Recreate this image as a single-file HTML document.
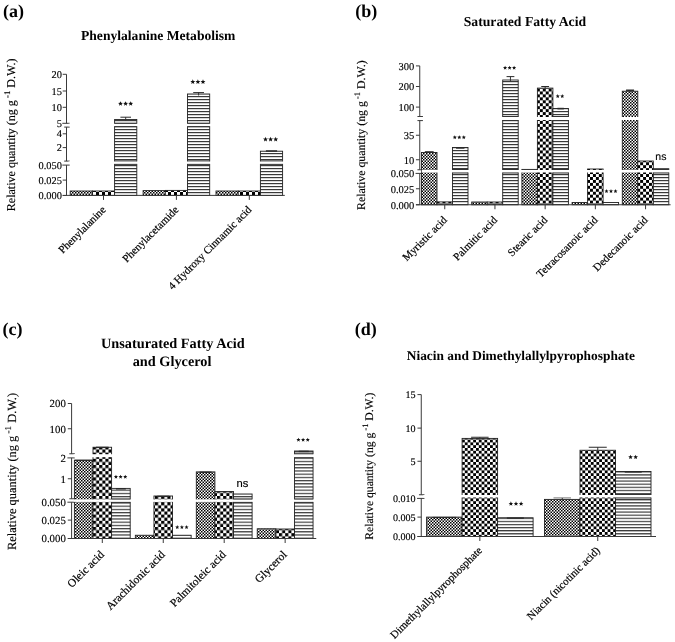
<!DOCTYPE html>
<html><head><meta charset="utf-8"><style>
html,body{margin:0;padding:0;background:#fff;}
svg{display:block;} #w{width:675px;height:642px;} text{text-rendering:geometricPrecision;} .t{opacity:0.999;}
</style></head><body>
<div id="w"><svg width="675" height="642" viewBox="0 0 675 642">
<defs>
<pattern id="finea" width="3" height="3" patternUnits="userSpaceOnUse"><rect width="3" height="3" fill="#fff"/><rect width="1.5" height="1.5" fill="#000"/><rect x="1.5" y="1.5" width="1.5" height="1.5" fill="#000"/></pattern>
<pattern id="coarsea" width="6.0" height="6.0" patternUnits="userSpaceOnUse"><rect width="6.0" height="6.0" fill="#fff"/><rect width="3.0" height="3.0" fill="#000"/><rect x="3.0" y="3.0" width="3.0" height="3.0" fill="#000"/></pattern>
<pattern id="stripea" width="6" height="3.0" patternUnits="userSpaceOnUse"><rect width="6" height="3.0" fill="#fff"/><rect y="0" width="6" height="1.2" fill="#3a3a3a"/></pattern>
<pattern id="fineb" width="3" height="3" patternUnits="userSpaceOnUse"><rect width="3" height="3" fill="#fff"/><rect width="1.5" height="1.5" fill="#000"/><rect x="1.5" y="1.5" width="1.5" height="1.5" fill="#000"/></pattern>
<pattern id="coarseb" width="5.9" height="5.9" patternUnits="userSpaceOnUse"><rect width="5.9" height="5.9" fill="#fff"/><rect width="2.95" height="2.95" fill="#000"/><rect x="2.95" y="2.95" width="2.95" height="2.95" fill="#000"/></pattern>
<pattern id="stripeb" width="6" height="3.0" patternUnits="userSpaceOnUse"><rect width="6" height="3.0" fill="#fff"/><rect y="0" width="6" height="1.2" fill="#3a3a3a"/></pattern>
<pattern id="finec" width="3" height="3" patternUnits="userSpaceOnUse"><rect width="3" height="3" fill="#fff"/><rect width="1.5" height="1.5" fill="#000"/><rect x="1.5" y="1.5" width="1.5" height="1.5" fill="#000"/></pattern>
<pattern id="coarsec" width="6.2" height="6.2" patternUnits="userSpaceOnUse"><rect width="6.2" height="6.2" fill="#fff"/><rect width="3.1" height="3.1" fill="#000"/><rect x="3.1" y="3.1" width="3.1" height="3.1" fill="#000"/></pattern>
<pattern id="stripec" width="6" height="3.2" patternUnits="userSpaceOnUse"><rect width="6" height="3.2" fill="#fff"/><rect y="0" width="6" height="1.2" fill="#3a3a3a"/></pattern>
<pattern id="fined" width="3" height="3" patternUnits="userSpaceOnUse"><rect width="3" height="3" fill="#fff"/><rect width="1.5" height="1.5" fill="#000"/><rect x="1.5" y="1.5" width="1.5" height="1.5" fill="#000"/></pattern>
<pattern id="coarsed" width="5.6" height="5.6" patternUnits="userSpaceOnUse"><rect width="5.6" height="5.6" fill="#fff"/><rect width="2.8" height="2.8" fill="#000"/><rect x="2.8" y="2.8" width="2.8" height="2.8" fill="#000"/></pattern>
<pattern id="striped" width="6" height="3.1" patternUnits="userSpaceOnUse"><rect width="6" height="3.1" fill="#fff"/><rect y="0" width="6" height="1.2" fill="#3a3a3a"/></pattern></defs>
<rect width="675" height="642" fill="#fff"/>
<g class="t"><line x1="66.50" y1="74.30" x2="66.50" y2="123.30" stroke="#3a3a3a" stroke-width="1.0"/>
<line x1="66.50" y1="127.10" x2="66.50" y2="161.10" stroke="#3a3a3a" stroke-width="1.0"/>
<line x1="66.50" y1="165.10" x2="66.50" y2="195.50" stroke="#3a3a3a" stroke-width="1.0"/>
<line x1="62.70" y1="74.30" x2="66.50" y2="74.30" stroke="#3a3a3a" stroke-width="1.0"/>
<text x="61.90" y="77.90" font-family="Liberation Serif" font-size="10.4" font-weight="normal" text-anchor="end" fill="#000" stroke="#000" stroke-width="0.15" >20</text>
<line x1="62.70" y1="91.00" x2="66.50" y2="91.00" stroke="#3a3a3a" stroke-width="1.0"/>
<text x="61.90" y="94.60" font-family="Liberation Serif" font-size="10.4" font-weight="normal" text-anchor="end" fill="#000" stroke="#000" stroke-width="0.15" >15</text>
<line x1="62.70" y1="107.30" x2="66.50" y2="107.30" stroke="#3a3a3a" stroke-width="1.0"/>
<text x="61.90" y="110.90" font-family="Liberation Serif" font-size="10.4" font-weight="normal" text-anchor="end" fill="#000" stroke="#000" stroke-width="0.15" >10</text>
<line x1="62.30" y1="123.30" x2="69.70" y2="123.30" stroke="#3a3a3a" stroke-width="1.0"/>
<text x="61.90" y="126.90" font-family="Liberation Serif" font-size="10.4" font-weight="normal" text-anchor="end" fill="#000" stroke="#000" stroke-width="0.15" >5</text>
<line x1="64.20" y1="127.10" x2="69.70" y2="127.10" stroke="#3a3a3a" stroke-width="1.0"/>
<line x1="62.70" y1="133.80" x2="66.50" y2="133.80" stroke="#3a3a3a" stroke-width="1.0"/>
<text x="61.90" y="137.40" font-family="Liberation Serif" font-size="10.4" font-weight="normal" text-anchor="end" fill="#000" stroke="#000" stroke-width="0.15" >4</text>
<line x1="62.70" y1="147.60" x2="66.50" y2="147.60" stroke="#3a3a3a" stroke-width="1.0"/>
<text x="61.90" y="151.20" font-family="Liberation Serif" font-size="10.4" font-weight="normal" text-anchor="end" fill="#000" stroke="#000" stroke-width="0.15" >2</text>
<line x1="64.20" y1="161.10" x2="69.70" y2="161.10" stroke="#3a3a3a" stroke-width="1.0"/>
<line x1="62.30" y1="165.10" x2="69.70" y2="165.10" stroke="#3a3a3a" stroke-width="1.0"/>
<text x="61.90" y="168.70" font-family="Liberation Serif" font-size="10.4" font-weight="normal" text-anchor="end" fill="#000" stroke="#000" stroke-width="0.15" >0.050</text>
<line x1="62.70" y1="180.10" x2="66.50" y2="180.10" stroke="#3a3a3a" stroke-width="1.0"/>
<text x="61.90" y="183.70" font-family="Liberation Serif" font-size="10.4" font-weight="normal" text-anchor="end" fill="#000" stroke="#000" stroke-width="0.15" >0.025</text>
<line x1="62.70" y1="195.50" x2="66.50" y2="195.50" stroke="#3a3a3a" stroke-width="1.0"/>
<text x="61.90" y="199.10" font-family="Liberation Serif" font-size="10.4" font-weight="normal" text-anchor="end" fill="#000" stroke="#000" stroke-width="0.15" >0.000</text>
<rect x="70.20" y="191.00" width="22.20" height="4.40" fill="url(#finea)" stroke="#222" stroke-width="0.9"/>
<rect x="92.40" y="191.00" width="22.20" height="4.40" fill="url(#coarsea)" stroke="#222" stroke-width="0.9"/>
<rect x="114.60" y="119.50" width="22.20" height="75.90" fill="url(#stripea)" stroke="#222" stroke-width="0.9"/>
<line x1="125.70" y1="117.20" x2="125.70" y2="121.00" stroke="#333" stroke-width="1"/>
<rect x="120.40" y="116.70" width="10.60" height="1.00" fill="#2a2a2a"/>
<line x1="103.50" y1="195.40" x2="103.50" y2="199.90" stroke="#3a3a3a" stroke-width="1.0"/>
<text x="106.40" y="210.40" font-family="Liberation Serif" font-size="10.9" text-anchor="end" fill="#000" stroke="#000" stroke-width="0.2" transform="rotate(-45 106.40 210.40)">Phenylalanine</text>
<polygon points="120.50,101.15 121.17,102.77 122.93,102.91 121.59,104.05 122.00,105.76 120.50,104.85 119.00,105.76 119.41,104.05 118.07,102.91 119.83,102.77" fill="#111"/>
<polygon points="125.60,101.15 126.27,102.77 128.03,102.91 126.69,104.05 127.10,105.76 125.60,104.85 124.10,105.76 124.51,104.05 123.17,102.91 124.93,102.77" fill="#111"/>
<polygon points="130.70,101.15 131.37,102.77 133.13,102.91 131.79,104.05 132.20,105.76 130.70,104.85 129.20,105.76 129.61,104.05 128.27,102.91 130.03,102.77" fill="#111"/>
<rect x="143.10" y="190.60" width="22.20" height="4.80" fill="url(#finea)" stroke="#222" stroke-width="0.9"/>
<rect x="165.30" y="190.40" width="22.20" height="5.00" fill="url(#coarsea)" stroke="#222" stroke-width="0.9"/>
<rect x="187.50" y="94.00" width="22.20" height="101.40" fill="url(#stripea)" stroke="#222" stroke-width="0.9"/>
<line x1="198.60" y1="92.60" x2="198.60" y2="95.50" stroke="#333" stroke-width="1"/>
<rect x="193.20" y="92.10" width="10.80" height="1.00" fill="#2a2a2a"/>
<line x1="176.40" y1="195.40" x2="176.40" y2="199.90" stroke="#3a3a3a" stroke-width="1.0"/>
<text x="179.30" y="210.40" font-family="Liberation Serif" font-size="10.9" text-anchor="end" fill="#000" stroke="#000" stroke-width="0.2" transform="rotate(-45 179.30 210.40)">Phenylacetamide</text>
<polygon points="192.80,79.35 193.47,80.97 195.23,81.11 193.89,82.25 194.30,83.96 192.80,83.05 191.30,83.96 191.71,82.25 190.37,81.11 192.13,80.97" fill="#111"/>
<polygon points="197.90,79.35 198.57,80.97 200.33,81.11 198.99,82.25 199.40,83.96 197.90,83.05 196.40,83.96 196.81,82.25 195.47,81.11 197.23,80.97" fill="#111"/>
<polygon points="203.00,79.35 203.67,80.97 205.43,81.11 204.09,82.25 204.50,83.96 203.00,83.05 201.50,83.96 201.91,82.25 200.57,81.11 202.33,80.97" fill="#111"/>
<rect x="216.00" y="191.00" width="22.20" height="4.40" fill="url(#finea)" stroke="#222" stroke-width="0.9"/>
<rect x="238.20" y="191.00" width="22.20" height="4.40" fill="url(#coarsea)" stroke="#222" stroke-width="0.9"/>
<rect x="260.40" y="151.20" width="22.20" height="44.20" fill="url(#stripea)" stroke="#222" stroke-width="0.9"/>
<rect x="265.90" y="150.25" width="11.20" height="1.50" fill="#2a2a2a"/>
<line x1="249.30" y1="195.40" x2="249.30" y2="199.90" stroke="#3a3a3a" stroke-width="1.0"/>
<text x="252.20" y="210.40" font-family="Liberation Serif" font-size="10.9" text-anchor="end" fill="#000" stroke="#000" stroke-width="0.2" transform="rotate(-45 252.20 210.40)">4 Hydroxy Cinnamic acid</text>
<polygon points="265.50,136.85 266.17,138.47 267.93,138.61 266.59,139.75 267.00,141.46 265.50,140.55 264.00,141.46 264.41,139.75 263.07,138.61 264.83,138.47" fill="#111"/>
<polygon points="270.60,136.85 271.27,138.47 273.03,138.61 271.69,139.75 272.10,141.46 270.60,140.55 269.10,141.46 269.51,139.75 268.17,138.61 269.93,138.47" fill="#111"/>
<polygon points="275.70,136.85 276.37,138.47 278.13,138.61 276.79,139.75 277.20,141.46 275.70,140.55 274.20,141.46 274.61,139.75 273.27,138.61 275.03,138.47" fill="#111"/>
<rect x="68.50" y="123.70" width="217.30" height="2.50" fill="#fff"/>
<rect x="68.50" y="161.40" width="217.30" height="2.50" fill="#fff"/>
<line x1="114.60" y1="123.20" x2="136.80" y2="123.20" stroke="#333" stroke-width="1"/>
<line x1="114.60" y1="126.70" x2="136.80" y2="126.70" stroke="#333" stroke-width="1"/>
<line x1="114.60" y1="160.90" x2="136.80" y2="160.90" stroke="#333" stroke-width="1"/>
<line x1="114.60" y1="164.40" x2="136.80" y2="164.40" stroke="#333" stroke-width="1"/>
<line x1="187.50" y1="123.20" x2="209.70" y2="123.20" stroke="#333" stroke-width="1"/>
<line x1="187.50" y1="126.70" x2="209.70" y2="126.70" stroke="#333" stroke-width="1"/>
<line x1="187.50" y1="160.90" x2="209.70" y2="160.90" stroke="#333" stroke-width="1"/>
<line x1="187.50" y1="164.40" x2="209.70" y2="164.40" stroke="#333" stroke-width="1"/>
<line x1="260.40" y1="160.90" x2="282.60" y2="160.90" stroke="#333" stroke-width="1"/>
<line x1="260.40" y1="164.40" x2="282.60" y2="164.40" stroke="#333" stroke-width="1"/>
<line x1="62.70" y1="195.40" x2="284.80" y2="195.40" stroke="#3a3a3a" stroke-width="1.0"/>
<text x="14.60" y="211.30" font-family="Liberation Serif" font-size="12.1" fill="#000" stroke="#000" stroke-width="0.15" transform="rotate(-90 14.60 211.30)">Relative quantity (ng g<tspan dy="-4.60" font-size="8.71"> -1</tspan><tspan dy="4.60"> D.W.)</tspan></text>
<text x="3.00" y="16.60" font-family="Liberation Serif" font-size="18" font-weight="bold" text-anchor="start" fill="#000" >(a)</text>
<text x="81.00" y="40.40" font-family="Liberation Serif" font-size="13.6" font-weight="bold" text-anchor="start" fill="#000" >Phenylalanine Metabolism</text>
<line x1="419.75" y1="65.90" x2="419.75" y2="116.50" stroke="#3a3a3a" stroke-width="1.0"/>
<line x1="419.75" y1="120.60" x2="419.75" y2="169.75" stroke="#3a3a3a" stroke-width="1.0"/>
<line x1="419.75" y1="173.40" x2="419.75" y2="204.75" stroke="#3a3a3a" stroke-width="1.0"/>
<line x1="415.95" y1="65.90" x2="419.75" y2="65.90" stroke="#3a3a3a" stroke-width="1.0"/>
<text x="414.35" y="69.70" font-family="Liberation Serif" font-size="10.5" font-weight="normal" text-anchor="end" fill="#000" stroke="#000" stroke-width="0.15" >300</text>
<line x1="415.95" y1="86.50" x2="419.75" y2="86.50" stroke="#3a3a3a" stroke-width="1.0"/>
<text x="414.35" y="90.30" font-family="Liberation Serif" font-size="10.5" font-weight="normal" text-anchor="end" fill="#000" stroke="#000" stroke-width="0.15" >200</text>
<line x1="415.95" y1="107.10" x2="419.75" y2="107.10" stroke="#3a3a3a" stroke-width="1.0"/>
<text x="414.35" y="110.90" font-family="Liberation Serif" font-size="10.5" font-weight="normal" text-anchor="end" fill="#000" stroke="#000" stroke-width="0.15" >100</text>
<line x1="417.45" y1="116.50" x2="422.95" y2="116.50" stroke="#3a3a3a" stroke-width="1.0"/>
<line x1="417.45" y1="120.60" x2="422.95" y2="120.60" stroke="#3a3a3a" stroke-width="1.0"/>
<line x1="415.95" y1="135.25" x2="419.75" y2="135.25" stroke="#3a3a3a" stroke-width="1.0"/>
<text x="414.35" y="139.05" font-family="Liberation Serif" font-size="10.5" font-weight="normal" text-anchor="end" fill="#000" stroke="#000" stroke-width="0.15" >35</text>
<line x1="415.95" y1="159.75" x2="419.75" y2="159.75" stroke="#3a3a3a" stroke-width="1.0"/>
<text x="414.35" y="163.55" font-family="Liberation Serif" font-size="10.5" font-weight="normal" text-anchor="end" fill="#000" stroke="#000" stroke-width="0.15" >10</text>
<line x1="417.45" y1="169.75" x2="422.95" y2="169.75" stroke="#3a3a3a" stroke-width="1.0"/>
<line x1="415.55" y1="173.40" x2="422.95" y2="173.40" stroke="#3a3a3a" stroke-width="1.0"/>
<text x="414.35" y="177.20" font-family="Liberation Serif" font-size="10.5" font-weight="normal" text-anchor="end" fill="#000" stroke="#000" stroke-width="0.15" >0.050</text>
<line x1="415.95" y1="188.75" x2="419.75" y2="188.75" stroke="#3a3a3a" stroke-width="1.0"/>
<text x="414.35" y="192.55" font-family="Liberation Serif" font-size="10.5" font-weight="normal" text-anchor="end" fill="#000" stroke="#000" stroke-width="0.15" >0.025</text>
<line x1="415.95" y1="204.75" x2="419.75" y2="204.75" stroke="#3a3a3a" stroke-width="1.0"/>
<text x="414.35" y="208.55" font-family="Liberation Serif" font-size="10.5" font-weight="normal" text-anchor="end" fill="#000" stroke="#000" stroke-width="0.15" >0.000</text>
<rect x="421.50" y="152.50" width="15.50" height="52.25" fill="url(#fineb)" stroke="#222" stroke-width="0.9"/>
<rect x="437.00" y="201.90" width="15.50" height="2.85" fill="url(#coarseb)" stroke="#222" stroke-width="0.9"/>
<rect x="452.50" y="147.50" width="15.50" height="57.25" fill="url(#stripeb)" stroke="#222" stroke-width="0.9"/>
<rect x="424.85" y="151.20" width="8.80" height="1.60" fill="#2a2a2a"/>
<rect x="456.05" y="147.10" width="8.40" height="1.60" fill="#2a2a2a"/>
<line x1="444.75" y1="204.75" x2="444.75" y2="209.25" stroke="#3a3a3a" stroke-width="1.0"/>
<text x="447.65" y="220.75" font-family="Liberation Serif" font-size="10.9" text-anchor="end" fill="#000" stroke="#000" stroke-width="0.2" transform="rotate(-45 447.65 220.75)">Myristic acid</text>
<polygon points="454.80,135.25 455.37,136.62 456.84,136.74 455.72,137.70 456.06,139.14 454.80,138.37 453.54,139.14 453.88,137.70 452.76,136.74 454.23,136.62" fill="#111"/>
<polygon points="459.30,135.25 459.87,136.62 461.34,136.74 460.22,137.70 460.56,139.14 459.30,138.37 458.04,139.14 458.38,137.70 457.26,136.74 458.73,136.62" fill="#111"/>
<polygon points="463.80,135.25 464.37,136.62 465.84,136.74 464.72,137.70 465.06,139.14 463.80,138.37 462.54,139.14 462.88,137.70 461.76,136.74 463.23,136.62" fill="#111"/>
<rect x="471.70" y="202.00" width="15.50" height="2.75" fill="url(#fineb)" stroke="#222" stroke-width="0.9"/>
<rect x="487.20" y="202.00" width="15.50" height="2.75" fill="url(#coarseb)" stroke="#222" stroke-width="0.9"/>
<rect x="502.70" y="80.00" width="15.50" height="124.75" fill="url(#stripeb)" stroke="#222" stroke-width="0.9"/>
<line x1="510.45" y1="76.60" x2="510.45" y2="81.50" stroke="#333" stroke-width="1"/>
<rect x="506.55" y="76.10" width="7.80" height="1.00" fill="#2a2a2a"/>
<line x1="494.95" y1="204.75" x2="494.95" y2="209.25" stroke="#3a3a3a" stroke-width="1.0"/>
<text x="497.85" y="220.75" font-family="Liberation Serif" font-size="10.9" text-anchor="end" fill="#000" stroke="#000" stroke-width="0.2" transform="rotate(-45 497.85 220.75)">Palmitic acid</text>
<polygon points="505.10,65.75 505.67,67.12 507.14,67.24 506.02,68.20 506.36,69.64 505.10,68.87 503.84,69.64 504.18,68.20 503.06,67.24 504.53,67.12" fill="#111"/>
<polygon points="509.60,65.75 510.17,67.12 511.64,67.24 510.52,68.20 510.86,69.64 509.60,68.87 508.34,69.64 508.68,68.20 507.56,67.24 509.03,67.12" fill="#111"/>
<polygon points="514.10,65.75 514.67,67.12 516.14,67.24 515.02,68.20 515.36,69.64 514.10,68.87 512.84,69.64 513.18,68.20 512.06,67.24 513.53,67.12" fill="#111"/>
<rect x="521.90" y="169.40" width="15.50" height="35.35" fill="url(#fineb)" stroke="#222" stroke-width="0.9"/>
<rect x="537.40" y="88.10" width="15.50" height="116.65" fill="url(#coarseb)" stroke="#222" stroke-width="0.9"/>
<rect x="552.90" y="108.50" width="15.50" height="96.25" fill="url(#stripeb)" stroke="#222" stroke-width="0.9"/>
<line x1="545.15" y1="86.50" x2="545.15" y2="89.60" stroke="#333" stroke-width="1"/>
<rect x="541.25" y="86.00" width="7.80" height="1.00" fill="#2a2a2a"/>
<rect x="557.45" y="107.80" width="6.40" height="1.60" fill="#2a2a2a"/>
<line x1="545.15" y1="204.75" x2="545.15" y2="209.25" stroke="#3a3a3a" stroke-width="1.0"/>
<text x="548.05" y="220.75" font-family="Liberation Serif" font-size="10.9" text-anchor="end" fill="#000" stroke="#000" stroke-width="0.2" transform="rotate(-45 548.05 220.75)">Stearic acid</text>
<polygon points="557.75,94.10 558.32,95.47 559.79,95.59 558.67,96.55 559.01,97.99 557.75,97.22 556.49,97.99 556.83,96.55 555.71,95.59 557.18,95.47" fill="#111"/>
<polygon points="562.25,94.10 562.82,95.47 564.29,95.59 563.17,96.55 563.51,97.99 562.25,97.22 560.99,97.99 561.33,96.55 560.21,95.59 561.68,95.47" fill="#111"/>
<rect x="572.10" y="202.50" width="15.50" height="2.25" fill="url(#fineb)" stroke="#222" stroke-width="0.9"/>
<rect x="587.60" y="169.00" width="15.50" height="35.75" fill="url(#coarseb)" stroke="#222" stroke-width="0.9"/>
<rect x="603.10" y="202.50" width="15.50" height="2.25" fill="url(#stripeb)" stroke="#222" stroke-width="0.9"/>
<line x1="595.35" y1="204.75" x2="595.35" y2="209.25" stroke="#3a3a3a" stroke-width="1.0"/>
<text x="598.25" y="220.75" font-family="Liberation Serif" font-size="10.9" text-anchor="end" fill="#000" stroke="#000" stroke-width="0.2" transform="rotate(-45 598.25 220.75)">Tetracosanoic acid</text>
<polygon points="606.50,189.10 607.07,190.47 608.54,190.59 607.42,191.55 607.76,192.99 606.50,192.22 605.24,192.99 605.58,191.55 604.46,190.59 605.93,190.47" fill="#111"/>
<polygon points="611.00,189.10 611.57,190.47 613.04,190.59 611.92,191.55 612.26,192.99 611.00,192.22 609.74,192.99 610.08,191.55 608.96,190.59 610.43,190.47" fill="#111"/>
<polygon points="615.50,189.10 616.07,190.47 617.54,190.59 616.42,191.55 616.76,192.99 615.50,192.22 614.24,192.99 614.58,191.55 613.46,190.59 614.93,190.47" fill="#111"/>
<rect x="622.30" y="91.20" width="15.50" height="113.55" fill="url(#fineb)" stroke="#222" stroke-width="0.9"/>
<rect x="637.80" y="161.00" width="15.50" height="43.75" fill="url(#coarseb)" stroke="#222" stroke-width="0.9"/>
<rect x="653.30" y="168.75" width="15.50" height="36.00" fill="url(#stripeb)" stroke="#222" stroke-width="0.9"/>
<line x1="630.05" y1="90.30" x2="630.05" y2="92.70" stroke="#333" stroke-width="1"/>
<rect x="626.05" y="89.50" width="8.00" height="1.60" fill="#2a2a2a"/>
<line x1="645.55" y1="204.75" x2="645.55" y2="209.25" stroke="#3a3a3a" stroke-width="1.0"/>
<text x="648.45" y="220.75" font-family="Liberation Serif" font-size="10.9" text-anchor="end" fill="#000" stroke="#000" stroke-width="0.2" transform="rotate(-45 648.45 220.75)">Dedecanoic acid</text>
<text x="660.90" y="160.00" font-family="Liberation Sans" font-size="10.5" font-weight="normal" text-anchor="middle" fill="#000" stroke="#000" stroke-width="0.15" >ns</text>
<rect x="421.75" y="117.00" width="249.85" height="3.00" fill="#fff"/>
<rect x="421.75" y="170.00" width="249.85" height="2.50" fill="#fff"/>
<line x1="452.50" y1="169.50" x2="468.00" y2="169.50" stroke="#333" stroke-width="1"/>
<line x1="452.50" y1="173.00" x2="468.00" y2="173.00" stroke="#333" stroke-width="1"/>
<line x1="502.70" y1="116.50" x2="518.20" y2="116.50" stroke="#333" stroke-width="1"/>
<line x1="502.70" y1="120.50" x2="518.20" y2="120.50" stroke="#333" stroke-width="1"/>
<line x1="502.70" y1="169.50" x2="518.20" y2="169.50" stroke="#333" stroke-width="1"/>
<line x1="502.70" y1="173.00" x2="518.20" y2="173.00" stroke="#333" stroke-width="1"/>
<line x1="552.90" y1="116.50" x2="568.40" y2="116.50" stroke="#333" stroke-width="1"/>
<line x1="552.90" y1="120.50" x2="568.40" y2="120.50" stroke="#333" stroke-width="1"/>
<line x1="552.90" y1="169.50" x2="568.40" y2="169.50" stroke="#333" stroke-width="1"/>
<line x1="552.90" y1="173.00" x2="568.40" y2="173.00" stroke="#333" stroke-width="1"/>
<line x1="653.30" y1="169.50" x2="668.80" y2="169.50" stroke="#333" stroke-width="1"/>
<line x1="653.30" y1="173.00" x2="668.80" y2="173.00" stroke="#333" stroke-width="1"/>
<line x1="415.95" y1="204.75" x2="670.60" y2="204.75" stroke="#3a3a3a" stroke-width="1.0"/>
<text x="364.90" y="210.00" font-family="Liberation Serif" font-size="11.85" fill="#000" stroke="#000" stroke-width="0.15" transform="rotate(-90 364.90 210.00)">Relative quantity (ng g<tspan dy="-4.50" font-size="8.53"> -1</tspan><tspan dy="4.50"> D.W.)</tspan></text>
<text x="355.30" y="16.60" font-family="Liberation Serif" font-size="18" font-weight="bold" text-anchor="start" fill="#000" >(b)</text>
<text x="463.70" y="25.70" font-family="Liberation Serif" font-size="13.7" font-weight="bold" text-anchor="start" fill="#000" >Saturated Fatty Acid</text>
<line x1="71.60" y1="403.50" x2="71.60" y2="453.75" stroke="#3a3a3a" stroke-width="1.0"/>
<line x1="71.60" y1="457.90" x2="71.60" y2="498.75" stroke="#3a3a3a" stroke-width="1.0"/>
<line x1="71.60" y1="502.20" x2="71.60" y2="538.50" stroke="#3a3a3a" stroke-width="1.0"/>
<line x1="67.80" y1="403.50" x2="71.60" y2="403.50" stroke="#3a3a3a" stroke-width="1.0"/>
<text x="65.80" y="407.30" font-family="Liberation Serif" font-size="10.8" font-weight="normal" text-anchor="end" fill="#000" stroke="#000" stroke-width="0.15" >200</text>
<line x1="67.80" y1="428.75" x2="71.60" y2="428.75" stroke="#3a3a3a" stroke-width="1.0"/>
<text x="65.80" y="432.55" font-family="Liberation Serif" font-size="10.8" font-weight="normal" text-anchor="end" fill="#000" stroke="#000" stroke-width="0.15" >100</text>
<line x1="69.30" y1="453.75" x2="74.80" y2="453.75" stroke="#3a3a3a" stroke-width="1.0"/>
<line x1="67.40" y1="457.90" x2="74.80" y2="457.90" stroke="#3a3a3a" stroke-width="1.0"/>
<text x="65.80" y="461.70" font-family="Liberation Serif" font-size="10.8" font-weight="normal" text-anchor="end" fill="#000" stroke="#000" stroke-width="0.15" >2</text>
<line x1="67.80" y1="478.75" x2="71.60" y2="478.75" stroke="#3a3a3a" stroke-width="1.0"/>
<text x="65.80" y="482.55" font-family="Liberation Serif" font-size="10.8" font-weight="normal" text-anchor="end" fill="#000" stroke="#000" stroke-width="0.15" >1</text>
<line x1="69.30" y1="498.75" x2="74.80" y2="498.75" stroke="#3a3a3a" stroke-width="1.0"/>
<line x1="67.40" y1="502.20" x2="74.80" y2="502.20" stroke="#3a3a3a" stroke-width="1.0"/>
<text x="65.80" y="506.00" font-family="Liberation Serif" font-size="10.8" font-weight="normal" text-anchor="end" fill="#000" stroke="#000" stroke-width="0.15" >0.050</text>
<line x1="67.80" y1="520.10" x2="71.60" y2="520.10" stroke="#3a3a3a" stroke-width="1.0"/>
<text x="65.80" y="523.90" font-family="Liberation Serif" font-size="10.8" font-weight="normal" text-anchor="end" fill="#000" stroke="#000" stroke-width="0.15" >0.025</text>
<line x1="67.80" y1="538.50" x2="71.60" y2="538.50" stroke="#3a3a3a" stroke-width="1.0"/>
<text x="65.80" y="542.30" font-family="Liberation Serif" font-size="10.8" font-weight="normal" text-anchor="end" fill="#000" stroke="#000" stroke-width="0.15" >0.000</text>
<rect x="74.40" y="460.25" width="18.60" height="78.25" fill="url(#finec)" stroke="#222" stroke-width="0.9"/>
<rect x="93.00" y="447.25" width="18.60" height="91.25" fill="url(#coarsec)" stroke="#222" stroke-width="0.9"/>
<rect x="111.60" y="488.40" width="18.60" height="50.10" fill="url(#stripec)" stroke="#222" stroke-width="0.9"/>
<rect x="74.70" y="459.70" width="18.00" height="1.40" fill="#2a2a2a"/>
<rect x="96.00" y="446.70" width="12.60" height="1.40" fill="#2a2a2a"/>
<rect x="116.00" y="488.10" width="9.80" height="1.40" fill="#2a2a2a"/>
<line x1="102.30" y1="538.50" x2="102.30" y2="543.00" stroke="#3a3a3a" stroke-width="1.0"/>
<text x="104.70" y="555.30" font-family="Liberation Serif" font-size="11.4" text-anchor="end" fill="#000" stroke="#000" stroke-width="0.2" transform="rotate(-45 104.70 555.30)">Oleic acid</text>
<polygon points="115.95,474.75 116.52,476.12 117.99,476.24 116.87,477.20 117.21,478.64 115.95,477.87 114.69,478.64 115.03,477.20 113.91,476.24 115.38,476.12" fill="#111"/>
<polygon points="120.60,474.75 121.17,476.12 122.64,476.24 121.52,477.20 121.86,478.64 120.60,477.87 119.34,478.64 119.68,477.20 118.56,476.24 120.03,476.12" fill="#111"/>
<polygon points="125.25,474.75 125.82,476.12 127.29,476.24 126.17,477.20 126.51,478.64 125.25,477.87 123.99,478.64 124.33,477.20 123.21,476.24 124.68,476.12" fill="#111"/>
<rect x="135.35" y="535.25" width="18.60" height="3.25" fill="url(#finec)" stroke="#222" stroke-width="0.9"/>
<rect x="153.95" y="496.00" width="18.60" height="42.50" fill="url(#coarsec)" stroke="#222" stroke-width="0.9"/>
<rect x="172.55" y="535.25" width="18.60" height="3.25" fill="url(#stripec)" stroke="#222" stroke-width="0.9"/>
<rect x="157.25" y="495.70" width="12.00" height="1.40" fill="#2a2a2a"/>
<line x1="163.25" y1="538.50" x2="163.25" y2="543.00" stroke="#3a3a3a" stroke-width="1.0"/>
<text x="165.65" y="555.30" font-family="Liberation Serif" font-size="11.4" text-anchor="end" fill="#000" stroke="#000" stroke-width="0.2" transform="rotate(-45 165.65 555.30)">Arachidonic acid</text>
<polygon points="177.25,525.10 177.82,526.47 179.29,526.59 178.17,527.55 178.51,528.99 177.25,528.22 175.99,528.99 176.33,527.55 175.21,526.59 176.68,526.47" fill="#111"/>
<polygon points="181.90,525.10 182.47,526.47 183.94,526.59 182.82,527.55 183.16,528.99 181.90,528.22 180.64,528.99 180.98,527.55 179.86,526.59 181.33,526.47" fill="#111"/>
<polygon points="186.55,525.10 187.12,526.47 188.59,526.59 187.47,527.55 187.81,528.99 186.55,528.22 185.29,528.99 185.63,527.55 184.51,526.59 185.98,526.47" fill="#111"/>
<rect x="196.30" y="471.90" width="18.60" height="66.60" fill="url(#finec)" stroke="#222" stroke-width="0.9"/>
<rect x="214.90" y="491.50" width="18.60" height="47.00" fill="url(#coarsec)" stroke="#222" stroke-width="0.9"/>
<rect x="233.50" y="494.00" width="18.60" height="44.50" fill="url(#stripec)" stroke="#222" stroke-width="0.9"/>
<rect x="199.60" y="471.60" width="12.00" height="1.40" fill="#2a2a2a"/>
<line x1="224.20" y1="538.50" x2="224.20" y2="543.00" stroke="#3a3a3a" stroke-width="1.0"/>
<text x="226.60" y="555.30" font-family="Liberation Serif" font-size="11.4" text-anchor="end" fill="#000" stroke="#000" stroke-width="0.2" transform="rotate(-45 226.60 555.30)">Palmitoleic acid</text>
<text x="242.50" y="487.40" font-family="Liberation Sans" font-size="11.2" font-weight="normal" text-anchor="middle" fill="#000" stroke="#000" stroke-width="0.15" >ns</text>
<rect x="257.25" y="528.75" width="18.60" height="9.75" fill="url(#finec)" stroke="#222" stroke-width="0.9"/>
<rect x="275.85" y="529.00" width="18.60" height="9.50" fill="url(#coarsec)" stroke="#222" stroke-width="0.9"/>
<rect x="294.45" y="451.00" width="18.60" height="87.50" fill="url(#stripec)" stroke="#222" stroke-width="0.9"/>
<rect x="298.75" y="450.70" width="10.00" height="1.40" fill="#2a2a2a"/>
<line x1="285.15" y1="538.50" x2="285.15" y2="543.00" stroke="#3a3a3a" stroke-width="1.0"/>
<text x="287.55" y="555.30" font-family="Liberation Serif" font-size="11.4" text-anchor="end" fill="#000" stroke="#000" stroke-width="0.2" transform="rotate(-45 287.55 555.30)">Glycerol</text>
<polygon points="298.45,437.75 299.02,439.12 300.49,439.24 299.37,440.20 299.71,441.64 298.45,440.87 297.19,441.64 297.53,440.20 296.41,439.24 297.88,439.12" fill="#111"/>
<polygon points="303.10,437.75 303.67,439.12 305.14,439.24 304.02,440.20 304.36,441.64 303.10,440.87 301.84,441.64 302.18,440.20 301.06,439.24 302.53,439.12" fill="#111"/>
<polygon points="307.75,437.75 308.32,439.12 309.79,439.24 308.67,440.20 309.01,441.64 307.75,440.87 306.49,441.64 306.83,440.20 305.71,439.24 307.18,439.12" fill="#111"/>
<rect x="73.60" y="454.20" width="243.65" height="3.00" fill="#fff"/>
<rect x="73.60" y="499.40" width="243.65" height="2.50" fill="#fff"/>
<line x1="111.60" y1="498.90" x2="130.20" y2="498.90" stroke="#333" stroke-width="1"/>
<line x1="111.60" y1="502.40" x2="130.20" y2="502.40" stroke="#333" stroke-width="1"/>
<line x1="233.50" y1="498.90" x2="252.10" y2="498.90" stroke="#333" stroke-width="1"/>
<line x1="233.50" y1="502.40" x2="252.10" y2="502.40" stroke="#333" stroke-width="1"/>
<line x1="294.45" y1="453.70" x2="313.05" y2="453.70" stroke="#333" stroke-width="1"/>
<line x1="294.45" y1="457.70" x2="313.05" y2="457.70" stroke="#333" stroke-width="1"/>
<line x1="294.45" y1="498.90" x2="313.05" y2="498.90" stroke="#333" stroke-width="1"/>
<line x1="294.45" y1="502.40" x2="313.05" y2="502.40" stroke="#333" stroke-width="1"/>
<line x1="67.80" y1="538.50" x2="316.25" y2="538.50" stroke="#3a3a3a" stroke-width="1.0"/>
<text x="15.50" y="550.00" font-family="Liberation Serif" font-size="12.45" fill="#000" stroke="#000" stroke-width="0.15" transform="rotate(-90 15.50 550.00)">Relative quantity (ng g<tspan dy="-4.73" font-size="8.96"> -1</tspan><tspan dy="4.73"> D.W.)</tspan></text>
<text x="2.60" y="334.60" font-family="Liberation Serif" font-size="18" font-weight="bold" text-anchor="start" fill="#000" >(c)</text>
<text x="101.00" y="347.90" font-family="Liberation Serif" font-size="14.3" font-weight="bold" text-anchor="start" fill="#000" >Unsaturated Fatty Acid</text>
<text x="132.70" y="365.50" font-family="Liberation Serif" font-size="14.3" font-weight="bold" text-anchor="start" fill="#000" >and Glycerol</text>
<line x1="421.25" y1="394.60" x2="421.25" y2="494.75" stroke="#3a3a3a" stroke-width="1.0"/>
<line x1="421.25" y1="498.40" x2="421.25" y2="536.50" stroke="#3a3a3a" stroke-width="1.0"/>
<line x1="417.45" y1="394.60" x2="421.25" y2="394.60" stroke="#3a3a3a" stroke-width="1.0"/>
<text x="415.65" y="398.20" font-family="Liberation Serif" font-size="10.1" font-weight="normal" text-anchor="end" fill="#000" stroke="#000" stroke-width="0.15" >15</text>
<line x1="417.45" y1="428.10" x2="421.25" y2="428.10" stroke="#3a3a3a" stroke-width="1.0"/>
<text x="415.65" y="431.70" font-family="Liberation Serif" font-size="10.1" font-weight="normal" text-anchor="end" fill="#000" stroke="#000" stroke-width="0.15" >10</text>
<line x1="417.45" y1="461.25" x2="421.25" y2="461.25" stroke="#3a3a3a" stroke-width="1.0"/>
<text x="415.65" y="464.85" font-family="Liberation Serif" font-size="10.1" font-weight="normal" text-anchor="end" fill="#000" stroke="#000" stroke-width="0.15" >5</text>
<line x1="418.95" y1="494.75" x2="424.45" y2="494.75" stroke="#3a3a3a" stroke-width="1.0"/>
<line x1="417.05" y1="498.40" x2="424.45" y2="498.40" stroke="#3a3a3a" stroke-width="1.0"/>
<text x="415.65" y="502.00" font-family="Liberation Serif" font-size="10.1" font-weight="normal" text-anchor="end" fill="#000" stroke="#000" stroke-width="0.15" >0.010</text>
<line x1="417.45" y1="517.10" x2="421.25" y2="517.10" stroke="#3a3a3a" stroke-width="1.0"/>
<text x="415.65" y="520.70" font-family="Liberation Serif" font-size="10.1" font-weight="normal" text-anchor="end" fill="#000" stroke="#000" stroke-width="0.15" >0.005</text>
<line x1="417.45" y1="536.50" x2="421.25" y2="536.50" stroke="#3a3a3a" stroke-width="1.0"/>
<text x="415.65" y="540.10" font-family="Liberation Serif" font-size="10.1" font-weight="normal" text-anchor="end" fill="#000" stroke="#000" stroke-width="0.15" >0.000</text>
<rect x="426.60" y="517.10" width="35.50" height="19.40" fill="url(#fined)" stroke="#222" stroke-width="0.9"/>
<rect x="462.10" y="438.40" width="35.50" height="98.10" fill="url(#coarsed)" stroke="#222" stroke-width="0.9"/>
<rect x="497.60" y="517.75" width="35.50" height="18.75" fill="url(#striped)" stroke="#222" stroke-width="0.9"/>
<rect x="432.35" y="516.90" width="24.00" height="1.20" fill="#2a2a2a"/>
<line x1="479.85" y1="437.25" x2="479.85" y2="439.90" stroke="#333" stroke-width="1"/>
<rect x="471.10" y="436.75" width="17.50" height="1.00" fill="#2a2a2a"/>
<rect x="506.85" y="517.40" width="17.00" height="1.40" fill="#2a2a2a"/>
<line x1="479.85" y1="536.50" x2="479.85" y2="541.00" stroke="#3a3a3a" stroke-width="1.0"/>
<text x="482.75" y="551.10" font-family="Liberation Serif" font-size="10.9" text-anchor="end" fill="#000" stroke="#000" stroke-width="0.2" transform="rotate(-45 482.75 551.10)">Dimethylallylpyrophosphate</text>
<polygon points="510.90,501.35 511.53,502.88 513.18,503.01 511.93,504.08 512.31,505.69 510.90,504.83 509.49,505.69 509.87,504.08 508.62,503.01 510.27,502.88" fill="#111"/>
<polygon points="516.00,501.35 516.63,502.88 518.28,503.01 517.03,504.08 517.41,505.69 516.00,504.83 514.59,505.69 514.97,504.08 513.72,503.01 515.37,502.88" fill="#111"/>
<polygon points="521.10,501.35 521.73,502.88 523.38,503.01 522.13,504.08 522.51,505.69 521.10,504.83 519.69,505.69 520.07,504.08 518.82,503.01 520.47,502.88" fill="#111"/>
<rect x="544.50" y="499.40" width="35.50" height="37.10" fill="url(#fined)" stroke="#222" stroke-width="0.9"/>
<rect x="580.00" y="450.25" width="35.50" height="86.25" fill="url(#coarsed)" stroke="#222" stroke-width="0.9"/>
<rect x="615.50" y="471.50" width="35.50" height="65.00" fill="url(#striped)" stroke="#222" stroke-width="0.9"/>
<line x1="562.25" y1="497.75" x2="562.25" y2="500.90" stroke="#333" stroke-width="1"/>
<rect x="553.50" y="497.25" width="17.50" height="1.00" fill="#2a2a2a"/>
<line x1="597.75" y1="447.25" x2="597.75" y2="451.75" stroke="#333" stroke-width="1"/>
<rect x="588.75" y="446.75" width="18.00" height="1.00" fill="#2a2a2a"/>
<rect x="624.75" y="471.20" width="17.00" height="1.40" fill="#2a2a2a"/>
<line x1="597.75" y1="536.50" x2="597.75" y2="541.00" stroke="#3a3a3a" stroke-width="1.0"/>
<text x="600.65" y="551.10" font-family="Liberation Serif" font-size="10.9" text-anchor="end" fill="#000" stroke="#000" stroke-width="0.2" transform="rotate(-45 600.65 551.10)">Niacin (nicotinic acid)</text>
<polygon points="630.55,454.70 631.18,456.23 632.83,456.36 631.58,457.43 631.96,459.04 630.55,458.18 629.14,459.04 629.52,457.43 628.27,456.36 629.92,456.23" fill="#111"/>
<polygon points="635.65,454.70 636.28,456.23 637.93,456.36 636.68,457.43 637.06,459.04 635.65,458.18 634.24,459.04 634.62,457.43 633.37,456.36 635.02,456.23" fill="#111"/>
<rect x="423.25" y="495.00" width="233.75" height="2.50" fill="#fff"/>
<line x1="615.50" y1="494.50" x2="651.00" y2="494.50" stroke="#333" stroke-width="1"/>
<line x1="615.50" y1="498.00" x2="651.00" y2="498.00" stroke="#333" stroke-width="1"/>
<line x1="417.45" y1="536.50" x2="656.00" y2="536.50" stroke="#3a3a3a" stroke-width="1.0"/>
<text x="372.70" y="539.70" font-family="Liberation Serif" font-size="11.65" fill="#000" stroke="#000" stroke-width="0.15" transform="rotate(-90 372.70 539.70)">Relative quantity (ng g<tspan dy="-4.43" font-size="8.39"> -1</tspan><tspan dy="4.43"> D.W.)</tspan></text>
<text x="354.75" y="334.60" font-family="Liberation Serif" font-size="18" font-weight="bold" text-anchor="start" fill="#000" >(d)</text>
<text x="406.75" y="360.00" font-family="Liberation Serif" font-size="13.4" font-weight="bold" text-anchor="start" fill="#000" >Niacin and Dimethylallylpyrophosphate</text></g>
</svg></div>
</body></html>
